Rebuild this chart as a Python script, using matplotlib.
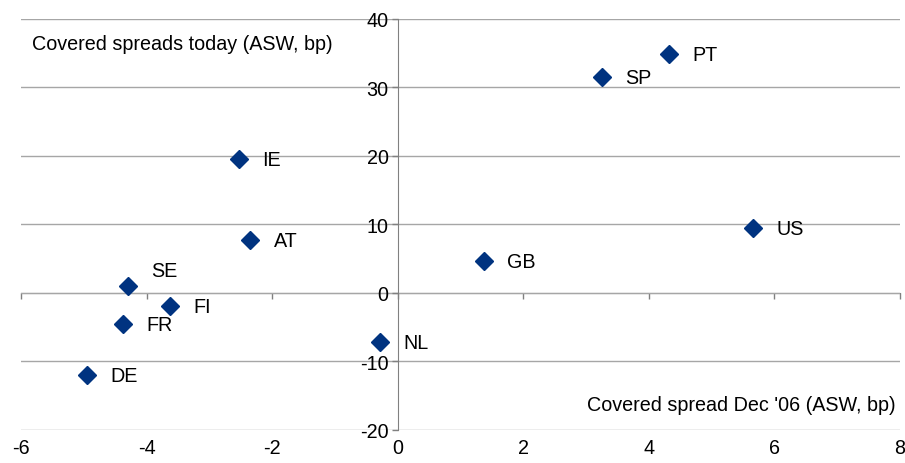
import numpy as np
import matplotlib
matplotlib.use("Agg")
import matplotlib.pyplot as plt

plt.rcParams['font.family'] = ['Liberation Sans', 'DejaVu Sans']
plt.rcParams['axes.unicode_minus'] = False

# covered spread Dec '06 vs today (ASW, bp)
countries = ["PT", "SP", "US", "GB", "IE", "AT", "SE", "FI", "FR", "DE", "NL"]
dec06 = [4.32, 3.25, 5.66, 1.37, -2.53, -2.35, -4.30, -3.63, -4.38, -4.95, -0.28]
today = [34.8, 31.5, 9.5, 4.65, 19.5, 7.7, 1.0, -1.9, -4.5, -12.0, -7.2]

NAVY = "#003380"
GRID = "#a6a6a6"
AXIS = "#808080"
FS = 14.2

fig = plt.figure(figsize=(9.05, 4.64), dpi=100)
ax = fig.add_axes([21 / 905, 1 - 431 / 464, 879 / 905, 411.5 / 464])

ax.plot(dec06, today, linestyle="none", marker="D", markersize=9,
        color=NAVY, zorder=3, clip_on=False)

for c, x, y in zip(countries, dec06, today):
    if c == "SE":
        ax.annotate(c, (x, y), xytext=(17, 11), textcoords="offset points",
                    fontsize=FS, va="center", ha="left")
    else:
        ax.annotate(c, (x, y), xytext=(17, -0.5), textcoords="offset points",
                    fontsize=FS, va="center", ha="left")

ax.set_xlim(-6, 8)
ax.set_ylim(-20, 40)
ax.set_xticks(np.arange(-6, 9, 2))
ax.set_yticks(np.arange(-20, 41, 10))

# y axis sits at x=0
ax.spines["left"].set_position(("data", 0))
ax.spines["left"].set_color(AXIS)
for s in ["top", "right", "bottom"]:
    ax.spines[s].set_visible(False)

ax.yaxis.grid(True, color=GRID, linewidth=1)
ax.set_axisbelow(True)

ax.tick_params(axis="y", direction="out", length=4.5, width=1, color=AXIS,
               labelsize=FS, pad=2)
# labels stay at the bottom, ticks go to the zero line
ax.tick_params(axis="x", length=0, labelsize=FS, pad=6)

sec = ax.secondary_xaxis(1 / 3)
sec.set_xticks(np.arange(-6, 9, 2))
sec.tick_params(axis="x", direction="out", length=4.5, width=1, color=AXIS,
                labelbottom=False, labeltop=False)
sec.spines["bottom"].set_color(AXIS)
sec.spines["top"].set_visible(False)

ax.text(0.012, 0.94, "Covered spreads today (ASW, bp)", transform=ax.transAxes,
        fontsize=FS, ha="left", va="center")
ax.text(0.995, 0.063, "Covered spread Dec '06 (ASW, bp)", transform=ax.transAxes,
        fontsize=FS, ha="right", va="center")

fig.savefig("out.png", dpi=100)
